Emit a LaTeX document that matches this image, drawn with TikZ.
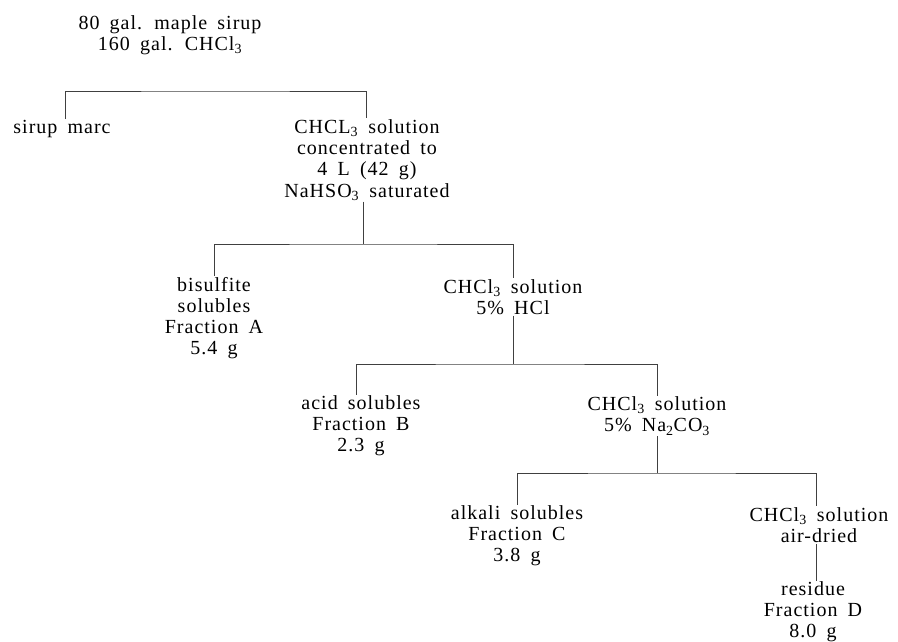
\documentclass[tikz,border=0pt]{standalone}
\usepackage{fontspec}
\setmainfont[LetterSpace=5, WordSpace=1.7]{Liberation Serif}

\begin{document}
\begin{tikzpicture}[
      x=1pt, y=-1pt,
      frac/.style={align=center, inner sep=1pt, font=\fontsize{20}{21.2}\selectfont},
      leg/.style={draw=black!75, line width=0.8pt}
    ]
    \useasboundingbox (0,0) rectangle (898,641);

    \node[frac] (top) at (170,35) {80 gal. maple sirup\\160 gal. CHCl\textsubscript{3}};
    \node[frac] (marc) at (62,129) {sirup marc};
    \node[frac] (sol1) at (367,160) {CHCL\textsubscript{3} solution\\concentrated to\\4 L (42 g)\\NaHSO\textsubscript{3} saturated};
    \node[frac] (fracA) at (214,318) {bisulfite\\solubles\\Fraction A\\5.4 g};
    \node[frac] (sol2) at (513,297) {CHCl\textsubscript{3} solution\\5\% HCl};
    \node[frac] (fracB) at (361,426) {acid solubles\\Fraction B\\2.3 g};
    \node[frac] (sol3) at (657,416) {CHCl\textsubscript{3} solution\\5\% Na\textsubscript{2}CO\textsubscript{3}};
    \node[frac] (fracC) at (517,536) {alkali solubles\\Fraction C\\3.8 g};
    \node[frac] (sol4) at (819,525) {CHCl\textsubscript{3} solution\\air-dried};
    \node[frac] (fracD) at (813,612) {residue\\Fraction D\\8.0 g};

    \coordinate (b1) at (215,91);
    \coordinate (b2) at (363,244);
    \coordinate (b3) at (513,364);
    \coordinate (b4) at (657,473);

    % splits
    \draw[leg] ([xshift=3pt]marc.north) |- (b1) -| ([xshift=-1pt]sol1.north);
    \draw[leg] (sol1.south -| b2) -- (b2);
    \draw[leg] (fracA.north) |- (b2) -| (sol2.north);
    \draw[leg] (sol2.south) -- (b3);
    \draw[leg] ([xshift=-5pt]fracB.north) |- (b3) -| (sol3.north);
    \draw[leg] (sol3.south) -- (b4);
    \draw[leg] (fracC.north) |- (b4) -| ([xshift=-3pt]sol4.north);
    \draw[leg] ([xshift=-3pt]sol4.south) -- ([xshift=3pt]fracD.north);
  \end{tikzpicture}
\end{document}
